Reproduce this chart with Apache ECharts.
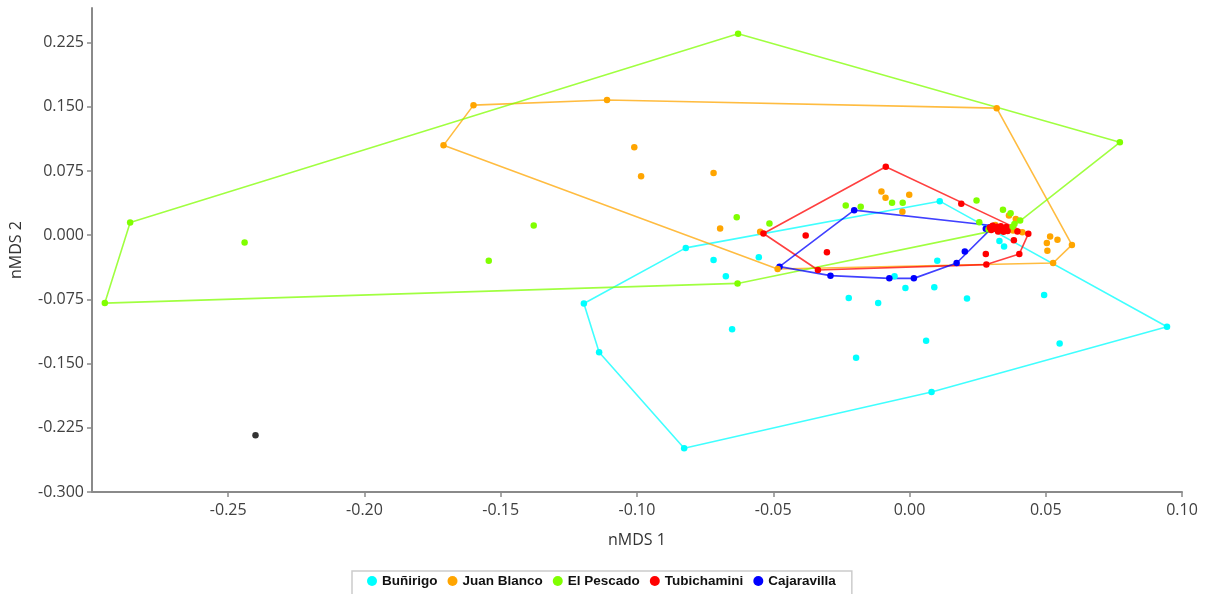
<!DOCTYPE html>
<html>
<head>
<meta charset="utf-8">
<script src="https://cdn.jsdelivr.net/npm/echarts@6/dist/echarts.min.js"></script>
<style>
html,body{margin:0;padding:0;background:#fff;}
#chart{width:1208px;height:594px;}
</style>
</head>
<body>
<div id="chart"></div>
<script>
// ---- data (nMDS 1, nMDS 2) ----
const groupNames = ['Buñirigo', 'Juan Blanco', 'El Pescado', 'Tubichamini', 'Cajaravilla'];
const groupColors = ['#00ffff', '#ffa500', '#80ff00', '#ff0000', '#0000ff'];

const bunirigo = [
  [-0.0821,-0.0148],[-0.0719,-0.0289],[-0.0553,-0.0258],[-0.0674,-0.0480],[-0.1195,-0.0797],
  [-0.1139,-0.1367],[-0.0651,-0.1097],[-0.0827,-0.2488],[0.0081,-0.1832],[0.0945,-0.1070],
  [0.0551,-0.1266],[0.0494,-0.0699],[0.0211,-0.0738],[0.0061,-0.1234],[-0.0196,-0.1430],
  [-0.0223,-0.0734],[-0.0115,-0.0793],[0.0091,-0.0609],[-0.0015,-0.0617],[-0.0055,-0.0480],
  [0.0102,-0.0297],[0.0111,0.0398],[0.0330,-0.0066],[0.0347,-0.0132],[0.0290,0.0075]
];
const juanBlanco = [
  [-0.1710,0.1050],[-0.1600,0.1520],[-0.1110,0.1580],[0.0320,0.1485],[-0.1010,0.1028],
  [-0.0985,0.0688],[-0.0719,0.0727],[-0.0695,0.0079],[-0.0548,0.0040],[-0.0484,-0.0394],
  [-0.0103,0.0512],[-0.0088,0.0438],[-0.0001,0.0473],[-0.0026,0.0274],[0.0365,0.0230],
  [0.0390,0.0190],[0.0380,0.0055],[0.0414,0.0035],[0.0516,-0.0015],[0.0543,-0.0054],
  [0.0504,-0.0090],[0.0506,-0.0180],[0.0596,-0.0113],[0.0527,-0.0324],[0.0315,0.0120],
  [0.0335,0.0090]
];
const elPescado = [
  [-0.2953,-0.0793],[-0.2860,0.0150],[-0.2440,-0.0086],[-0.1544,-0.0298],[-0.1379,0.0114],
  [-0.0629,0.2353],[0.0772,0.1086],[-0.0634,0.0211],[-0.0514,0.0137],[-0.0631,-0.0563],
  [-0.0234,0.0348],[-0.0179,0.0333],[-0.0064,0.0380],[-0.0025,0.0380],[0.0246,0.0407],
  [0.0256,0.0152],[0.0343,0.0298],[0.0371,0.0258],[0.0406,0.0172],[0.0378,0.0098],
  [0.0290,0.0070],[0.0385,0.0130]
];
const tubichamini = [
  [-0.0536,0.0020],[-0.0381,-0.0004],[-0.0303,-0.0199],[-0.0336,-0.0406],[-0.0087,0.0800],
  [0.0190,0.0368],[0.0436,0.0016],[0.0396,0.0043],[0.0383,-0.0058],[0.0403,-0.0218],
  [0.0280,-0.0218],[0.0282,-0.0343],[0.0295,0.0090],[0.0305,0.0110],[0.0310,0.0075],
  [0.0320,0.0100],[0.0330,0.0065],[0.0335,0.0105],[0.0340,0.0080],[0.0350,0.0060],
  [0.0355,0.0095],[0.0360,0.0050],[0.0300,0.0060],[0.0325,0.0045],[0.0345,0.0040]
];
const cajaravilla = [
  [-0.0477,-0.0367],[-0.0203,0.0293],[-0.0290,-0.0472],[-0.0074,-0.0504],[0.0016,-0.0504],
  [0.0173,-0.0324],[0.0203,-0.0191],[0.0280,0.0075],[0.0310,0.0110],[0.0295,0.0090]
];
const outlier = [[-0.2400,-0.2337]];

const xTicks = [-0.25, -0.20, -0.15, -0.10, -0.05, 0.00, 0.05, 0.10];
const yTicks = [-0.300, -0.225, -0.150, -0.075, 0.000, 0.075, 0.150, 0.225];

// ---- convex hull (monotone chain) ----
function hull(pts) {
  const p = pts.slice().sort((a, b) => a[0] - b[0] || a[1] - b[1]);
  const cross = (o, a, b) => (a[0]-o[0])*(b[1]-o[1]) - (a[1]-o[1])*(b[0]-o[0]);
  const lower = [];
  for (const q of p) { while (lower.length >= 2 && cross(lower[lower.length-2], lower[lower.length-1], q) <= 0) lower.pop(); lower.push(q); }
  const upper = [];
  for (let i = p.length - 1; i >= 0; i--) { const q = p[i]; while (upper.length >= 2 && cross(upper[upper.length-2], upper[upper.length-1], q) <= 0) upper.pop(); upper.push(q); }
  upper.pop(); lower.pop();
  const h = lower.concat(upper);
  h.push(h[0]);
  return h;
}

const groups = [bunirigo, juanBlanco, elPescado, tubichamini, cajaravilla];
const series = [];
groups.forEach((g, i) => {
  series.push({
    name: groupNames[i] + ' hull', type: 'line', data: hull(g), showSymbol: false,
    lineStyle: { color: groupColors[i], width: 1.6, opacity: 0.75 }, silent: true, z: 2,
    animation: false
  });
});
const drawOrder = [0, 4, 1, 2, 3];
drawOrder.forEach(i => {
  series.push({
    name: groupNames[i], type: 'scatter', data: groups[i], symbol: 'circle', symbolSize: 6.5,
    itemStyle: { color: groupColors[i], opacity: 1 }, z: 3, animation: false
  });
});
series.push({ name: 'other', type: 'scatter', data: outlier, symbolSize: 6.5, itemStyle: { color: '#000' }, z: 3, animation: false });

const axisColor = '#8a8a8a';
const chart = echarts.init(document.getElementById('chart'), null, { renderer: 'canvas' });
chart.setOption({
  backgroundColor: '#ffffff',
  animation: false,
  grid: { left: 92, right: 26, top: 8, bottom: 102, containLabel: false },
  xAxis: {
    type: 'value', min: -0.30, max: 0.10, interval: 0.05,
    name: 'nMDS 1', nameLocation: 'middle', nameGap: 40,
    nameTextStyle: { fontFamily: 'Open Sans', fontSize: 16, color: '#333' },
    axisLine: { onZero: false, lineStyle: { color: axisColor, width: 2 } },
    axisTick: { show: true, length: 5, lineStyle: { color: axisColor, width: 1.5 }, customValues: xTicks },
    axisLabel: { customValues: xTicks, formatter: v => v.toFixed(2), fontFamily: 'Open Sans', fontSize: 16, color: '#404040', margin: 10 },
    splitLine: { show: false }
  },
  yAxis: {
    type: 'value', min: -0.300, max: 0.2655, interval: 0.075,
    name: 'nMDS 2', nameLocation: 'middle', nameGap: 68,
    nameTextStyle: { fontFamily: 'Open Sans', fontSize: 16, color: '#333' },
    axisLine: { onZero: false, lineStyle: { color: axisColor, width: 2 } },
    axisTick: { show: true, length: 5, lineStyle: { color: axisColor, width: 1.5 }, customValues: yTicks },
    axisLabel: { customValues: yTicks, formatter: v => v.toFixed(3), fontFamily: 'Open Sans', fontSize: 16, color: '#404040', margin: 8 },
    splitLine: { show: false }
  },
  legend: {
    data: groupNames, left: 352, top: 571, orient: 'horizontal',
    icon: 'circle', itemWidth: 10, itemHeight: 10, itemGap: 10,
    padding: [3, 16, 8, 15], borderColor: '#cccccc', borderWidth: 1.5,
    textStyle: { fontFamily: 'Liberation Sans', fontWeight: 'bold', fontSize: 13.5, color: '#111' }
  },
  series: series
});
</script>
</body>
</html>
